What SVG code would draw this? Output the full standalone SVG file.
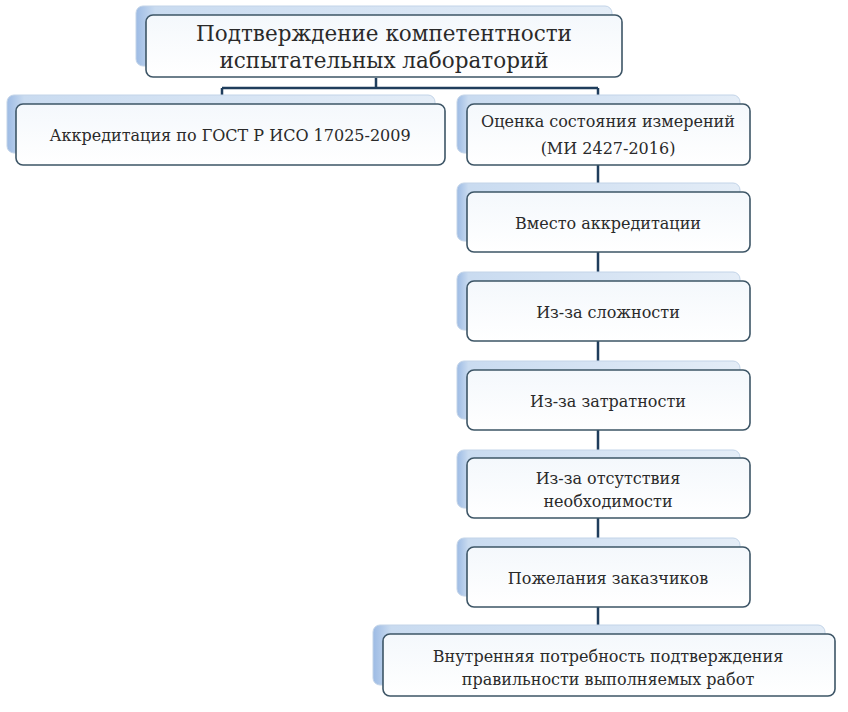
<svg xmlns="http://www.w3.org/2000/svg" width="848" height="712" viewBox="0 0 848 712">
<defs>
<linearGradient id="backG" x1="0" y1="0" x2="1" y2="0">
<stop offset="0" stop-color="#9dbbe4"/>
<stop offset="0.04" stop-color="#c9dbf0"/>
<stop offset="1" stop-color="#e4edf7"/>
</linearGradient>
<linearGradient id="frontG" x1="0" y1="0" x2="0" y2="1">
<stop offset="0" stop-color="#f4f8fc"/>
<stop offset="1" stop-color="#ffffff"/>
</linearGradient>
</defs>
<style>
.back{fill:url(#backG);stroke:#c3d4e8;stroke-width:1}
.front{fill:url(#frontG);stroke:#3d5566;stroke-width:1.6}
text{font-family:'DejaVu Serif','Liberation Serif',serif;fill:#2a2a2a;text-anchor:middle}
.s{font-size:16px}
.l{font-size:21.5px}
.c{fill:none;stroke:#1f3d5c;stroke-width:2.5}
</style>
<rect width="848" height="712" fill="#ffffff"/>
<g id="connectors">
<path class="c" d="M376 78 V88 M222 88 H598 M222 88 V104 M598 88 V104"/>
<path class="c" d="M598 165 V192 M598 252 V281 M598 341 V370 M598 430 V458 M598 518 V547 M598 607 V634"/>
</g>
<g id="n-root">
<rect class="back" x="136" y="6" width="476" height="60" rx="7"/>
<rect class="front" x="146" y="15" width="476" height="62" rx="7"/>
<text class="l" x="384" y="41">Подтверждение  компетентности</text>
<text class="l" x="384" y="68">испытательных  лабораторий</text>
</g>
<g id="n-accr">
<rect class="back" x="7" y="95" width="428" height="58" rx="7"/>
<rect class="front" x="16" y="104" width="429" height="61" rx="7"/>
<text class="s" x="230" y="141">Аккредитация по ГОСТ Р ИСО 17025-2009</text>
</g>
<g id="n-otsenka">
<rect class="back" x="457" y="95" width="283" height="58" rx="7"/>
<rect class="front" x="467" y="104" width="283" height="61" rx="7"/>
<text class="s" x="608" y="127">Оценка состояния измерений</text>
<text class="s" x="608" y="154">(МИ 2427-2016)</text>
</g>
<g id="n-vmesto">
<rect class="back" x="457" y="183" width="283" height="58" rx="7"/>
<rect class="front" x="467" y="192" width="283" height="60" rx="7"/>
<text class="s" x="608" y="229">Вместо аккредитации</text>
</g>
<g id="n-slozh">
<rect class="back" x="457" y="272" width="283" height="58" rx="7"/>
<rect class="front" x="467" y="281" width="283" height="60" rx="7"/>
<text class="s" x="608" y="318">Из-за сложности</text>
</g>
<g id="n-zatrat">
<rect class="back" x="457" y="361" width="283" height="58" rx="7"/>
<rect class="front" x="467" y="370" width="283" height="60" rx="7"/>
<text class="s" x="608" y="407">Из-за затратности</text>
</g>
<g id="n-otsut">
<rect class="back" x="457" y="450" width="283" height="58" rx="7"/>
<rect class="front" x="467" y="458" width="283" height="60" rx="7"/>
<text class="s" x="608" y="484">Из-за отсутствия</text>
<text class="s" x="608" y="507">необходимости</text>
</g>
<g id="n-pozh">
<rect class="back" x="457" y="538" width="283" height="58" rx="7"/>
<rect class="front" x="467" y="547" width="283" height="60" rx="7"/>
<text class="s" x="608" y="584">Пожелания заказчиков</text>
</g>
<g id="n-vnutr">
<rect class="back" x="373" y="625" width="452" height="60" rx="7"/>
<rect class="front" x="383" y="634" width="452" height="62" rx="7"/>
<text class="s" x="608" y="662">Внутренняя потребность подтверждения</text>
<text class="s" x="608" y="685">правильности выполняемых работ</text>
</g>
</svg>
